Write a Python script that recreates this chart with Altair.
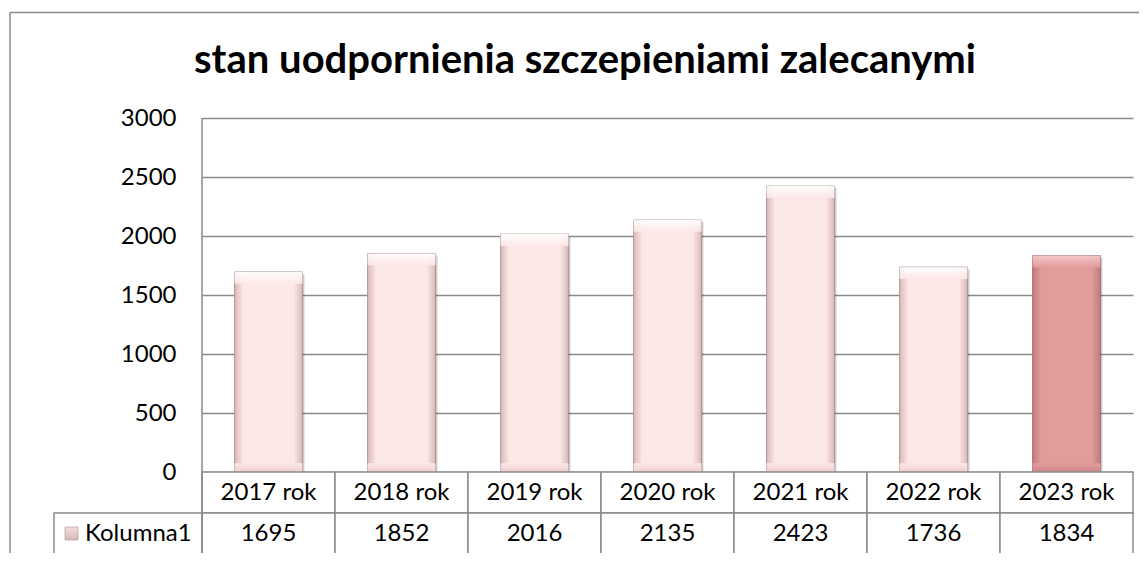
import altair as alt
import pandas as pd

categories = ["2017 rok", "2018 rok", "2019 rok", "2020 rok", "2021 rok", "2022 rok", "2023 rok"]
values = [1695, 1852, 2016, 2135, 2423, 1736, 1834]
series_name = "Kolumna1"
title_text = "stan uodpornienia szczepieniami zalecanymi"
y_ticks = [0, 500, 1000, 1500, 2000, 2500, 3000]
highlight_cat = "2023 rok"

df = pd.DataFrame({"cat": categories, "val": values})

W, H = 931, 354
ROW = 41
GRID = "#8a8a8a"
FONT = "Lato"
FS = 24

bar_scale = alt.Scale(domain=categories, paddingInner=0.49, paddingOuter=0.245)
cell_scale = alt.Scale(domain=categories, paddingInner=0, paddingOuter=0)
y_scale = alt.Scale(domain=[0, 3000], nice=False, zero=True)
AX = alt.Axis(values=y_ticks, format="d", grid=True, gridColor=GRID, gridWidth=1.5, domain=False,
              ticks=False, tickSize=0, labelPadding=26, labelFontSize=FS, labelFont=FONT,
              labelColor="#000000", title=None)


def hgrad(edge, mid):
    return alt.Gradient(gradient="linear", x1=0, x2=1, y1=0, y2=0,
                        stops=[alt.GradientStop(offset=0, color=edge),
                               alt.GradientStop(offset=0.13, color=mid),
                               alt.GradientStop(offset=0.87, color=mid),
                               alt.GradientStop(offset=1, color=edge)])


def vgrad(c1, c2):
    return alt.Gradient(gradient="linear", x1=0, x2=0, y1=0, y2=1,
                        stops=[alt.GradientStop(offset=0, color=c1),
                               alt.GradientStop(offset=1, color=c2)])


base = alt.Chart(df)
xb = alt.X("cat:N", scale=bar_scale, axis=None)
xc = alt.X("cat:N", scale=cell_scale, axis=None)

# frame
frame_left = alt.Chart(pd.DataFrame({"a": [0]})).mark_rule(color=GRID, strokeWidth=1.5).encode(
    x=alt.value(-192), y=alt.value(-105.5), y2=alt.value(H + 100))
frame_top = alt.Chart(pd.DataFrame({"a": [0]})).mark_rule(color=GRID, strokeWidth=1.5).encode(
    x=alt.value(-192), x2=alt.value(W + 40), y=alt.value(-105.5))

shadow = base.mark_bar(fill="#000000", opacity=0.2, xOffset=2, yOffset=2).encode(
    x=xb, y=alt.Y("val:Q", scale=y_scale, axis=AX))

normal = base.transform_filter(alt.datum.cat != highlight_cat)
special = base.transform_filter(alt.datum.cat == highlight_cat)

bars_n = normal.mark_bar(fill=hgrad("#dbb9ba", "#fde8e8"), stroke="#a89090", strokeWidth=0.9).encode(
    x=xb, y=alt.Y("val:Q", scale=y_scale, axis=AX))
bars_s = special.mark_bar(fill=hgrad("#c07a7b", "#e39c9c"), stroke="#987072", strokeWidth=0.9).encode(
    x=xb, y=alt.Y("val:Q", scale=y_scale, axis=AX))

top_n = normal.transform_calculate(top2="datum.val - 100").mark_bar(
    fill=vgrad("#ffffff", "#fde8e8"), opacity=0.9).encode(
    x=xb, y=alt.Y("val:Q", scale=y_scale, axis=AX), y2="top2:Q")
top_s = special.transform_calculate(top2="datum.val - 100").mark_bar(
    fill=vgrad("#f6cccc", "#e39c9c"), opacity=0.9).encode(
    x=xb, y=alt.Y("val:Q", scale=y_scale, axis=AX), y2="top2:Q")

bot_n = normal.transform_calculate(b0="0", b1="75").mark_bar(
    fill=vgrad("#fde8e8", "#efcfcf")).encode(
    x=xb, y=alt.Y("b1:Q", scale=y_scale, axis=AX), y2="b0:Q")
bot_s = special.transform_calculate(b0="0", b1="75").mark_bar(
    fill=vgrad("#e39c9c", "#d08585")).encode(
    x=xb, y=alt.Y("b1:Q", scale=y_scale, axis=AX), y2="b0:Q")

# data table
row1 = base.mark_rect(fill="white", stroke=GRID, strokeWidth=1.5).encode(
    x=xc, y=alt.value(H), y2=alt.value(H + ROW))
row2 = base.mark_rect(fill="white", stroke=GRID, strokeWidth=1.5).encode(
    x=xc, y=alt.value(H + ROW), y2=alt.value(H + 2 * ROW))
leg_df = pd.DataFrame({"s": [series_name]})
leg_cell = alt.Chart(leg_df).mark_rect(fill="white", stroke=GRID, strokeWidth=1.5).encode(
    x=alt.value(-148), x2=alt.value(0), y=alt.value(H + ROW), y2=alt.value(H + 2 * ROW))
leg_sym = alt.Chart(leg_df).mark_rect(fill=vgrad("#f3dede", "#d9b8b8"), stroke="#b09696", strokeWidth=0.6).encode(
    x=alt.value(-137), x2=alt.value(-124), y=alt.value(H + ROW + 14), y2=alt.value(H + ROW + 27))
leg_txt = alt.Chart(leg_df).mark_text(align="left", baseline="middle", font=FONT, fontSize=FS,
                                      color="#000000").encode(
    text="s:N", x=alt.value(-117), y=alt.value(H + ROW + 21))

txt1 = base.mark_text(baseline="middle", font=FONT, fontSize=FS, color="#000000").encode(
    x=xc, y=alt.value(H + 21), text="cat:N")
txt2 = base.mark_text(baseline="middle", font=FONT, fontSize=FS, color="#000000").encode(
    x=xc, y=alt.value(H + ROW + 21), text=alt.Text("val:Q", format="d"))

left_line = alt.Chart(pd.DataFrame({"a": [0]})).mark_rule(color=GRID, strokeWidth=1.5).encode(
    x=alt.value(0), y=alt.value(0), y2=alt.value(H + 2 * ROW))

title = alt.Chart(pd.DataFrame({"t": [title_text]})).mark_text(
    font=FONT, fontSize=40, fontWeight="bold", color="#000000", baseline="alphabetic").encode(
    text="t:N", x=alt.value(383), y=alt.value(-45))

chart = alt.layer(
    frame_left, frame_top, shadow, bars_n, bars_s, top_n, top_s, bot_n, bot_s,
    row1, row2, leg_cell, leg_sym, leg_txt, txt1, txt2, left_line, title
).resolve_scale(x="independent").properties(
    width=W, height=H,
    autosize=alt.AutoSizeParams(type="none"),
    padding={"left": 194, "top": 110, "right": 6, "bottom": 81},
    background="white",
).configure_view(stroke=None)

chart.save("out.html", embed_options={"renderer": "svg", "actions": False})
